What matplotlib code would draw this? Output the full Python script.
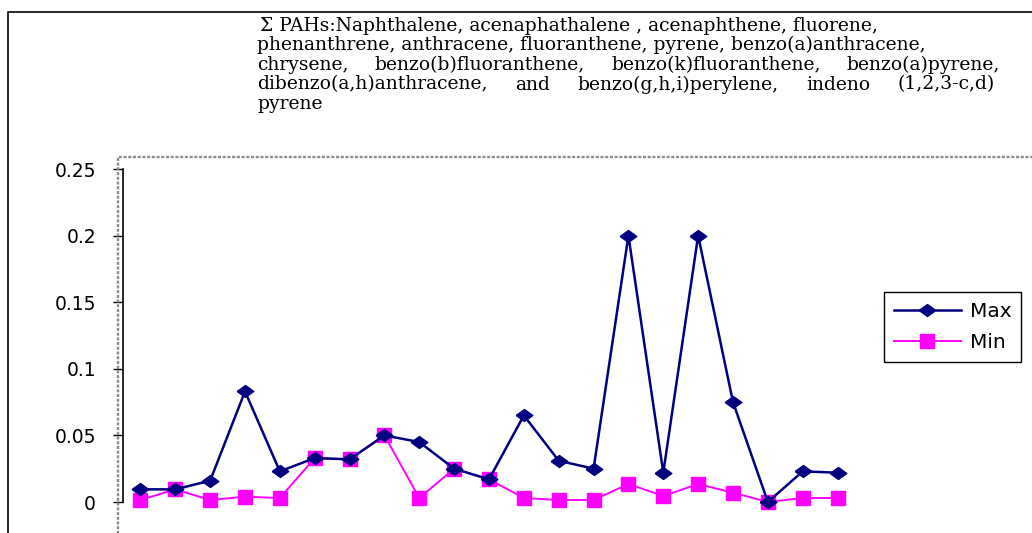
import matplotlib
matplotlib.use("Agg")
import matplotlib.pyplot as plt
from matplotlib.lines import Line2D

# ---------------- data ----------------
categories = list(range(1, 22))
max_values = [0.0095, 0.0095, 0.016, 0.083, 0.023, 0.033, 0.032, 0.050, 0.045, 0.025, 0.017,
              0.065, 0.031, 0.025, 0.200, 0.022, 0.200, 0.075, 0.0, 0.023, 0.022]
min_values = [0.0015, 0.0095, 0.0015, 0.004, 0.003, 0.033, 0.032, 0.050, 0.003, 0.025, 0.017,
              0.003, 0.0015, 0.0015, 0.0135, 0.0045, 0.0135, 0.007, 0.0, 0.003, 0.003]
series_names = ["Max", "Min"]
y_ticks = [0, 0.05, 0.1, 0.15, 0.2, 0.25]
y_tick_labels = ["0", "0.05", "0.1", "0.15", "0.2", "0.25"]
title_lines = [
    "\u03a3 PAHs:Naphthalene, acenaphathalene , acenaphthene, fluorene,",
    "phenanthrene, anthracene, fluoranthene, pyrene, benzo(a)anthracene,",
    "chrysene, benzo(b)fluoranthene, benzo(k)fluoranthene, benzo(a)pyrene,",
    "dibenzo(a,h)anthracene, and benzo(g,h,i)perylene, indeno (1,2,3-c,d)",
    "pyrene",
]

W, H = 1032, 533
DPI = 100
fig = plt.figure(figsize=(W / DPI, H / DPI), dpi=DPI)
fig.patch.set_facecolor("white")


def fx(px):
    return px / W


def fy(py):
    return 1 - py / H


# outer document frame
fig.add_artist(Line2D([fx(8), fx(8), fx(W + 5)], [fy(H + 5), fy(12), fy(12)],
                      transform=fig.transFigure, color="black", lw=1.2))
# dotted plot-area border
fig.add_artist(Line2D([fx(118), fx(118), fx(W + 5)], [fy(H + 5), fy(157), fy(157)],
                      transform=fig.transFigure, color="#8c8c8c", lw=1.7,
                      linestyle=(0, (1.3, 0.7))))

# ---------------- axes ----------------
ax = fig.add_axes([fx(123), fy(502), fx(855) - fx(123), fy(169) - fy(502)])
ax.set_facecolor("none")
ax.set_xlim(0.5, len(categories) + 0.5)
ax.set_ylim(0, 0.25)
for s in ["top", "right", "bottom"]:
    ax.spines[s].set_visible(False)
ax.spines["left"].set_linewidth(1.2)
ax.set_xticks([])
ax.set_yticks(y_ticks)
ax.set_yticklabels(y_tick_labels, fontfamily="DejaVu Sans", fontsize=13.5)
ax.tick_params(axis="y", direction="out", length=7, width=1.0, pad=12.5)

diamond = [(-1, 0), (0, 0.72), (1, 0), (0, -0.72), (-1, 0)]
ax.plot(categories, max_values, color="#000080", lw=1.8, marker=diamond,
        markersize=12, markerfacecolor="#000080", markeredgecolor="#000080",
        label=series_names[0], clip_on=False, zorder=3)
ax.plot(categories, min_values, color="#FF00FF", lw=1.4, marker="s",
        markersize=10.5, markerfacecolor="#FF00FF", markeredgecolor="#FF00FF",
        label=series_names[1], clip_on=False, zorder=2)

leg = fig.legend(loc="upper left", bbox_to_anchor=(fx(884), fy(292)),
                 bbox_transform=fig.transFigure, borderaxespad=0,
                 frameon=True, fancybox=False, shadow=False, framealpha=1,
                 edgecolor="black", handlelength=3.3, handletextpad=0.45,
                 borderpad=0.5, labelspacing=0.6,
                 prop={"family": "DejaVu Sans", "size": 14.5})
leg.get_frame().set_linewidth(1.0)

# ---------------- title block (justified paragraph) ----------------
renderer = fig.canvas.get_renderer()
title_font = dict(family="DejaVu Serif", size=12.5)
left_px = 257
baselines = [31, 50.5, 70, 89.5, 109]
justify_right = {2: 1000, 3: 995}


def text_width(s):
    t = fig.text(0, 0, s, fontfamily=title_font["family"], fontsize=title_font["size"])
    w = t.get_window_extent(renderer).width
    t.remove()
    return w


# fit font size so that line 2 spans the reference width
target = 933 - left_px
w2 = text_width(title_lines[1])
title_font["size"] = title_font["size"] * target / w2

for i, line in enumerate(title_lines):
    y = fy(baselines[i])
    x0 = left_px + (3 if i == 0 else 0)
    if i in justify_right:
        words = line.split(" ")
        widths = [text_width(wd) for wd in words]
        gap = (justify_right[i] - left_px - sum(widths)) / (len(words) - 1)
        x = left_px
        for wd, wdw in zip(words, widths):
            fig.text(fx(x), y, wd, fontfamily=title_font["family"],
                     fontsize=title_font["size"], va="baseline", ha="left")
            x += wdw + gap
    else:
        fig.text(fx(x0), y, line, fontfamily=title_font["family"],
                 fontsize=title_font["size"], va="baseline", ha="left")

fig.savefig("out.png", dpi=DPI, facecolor="white")
